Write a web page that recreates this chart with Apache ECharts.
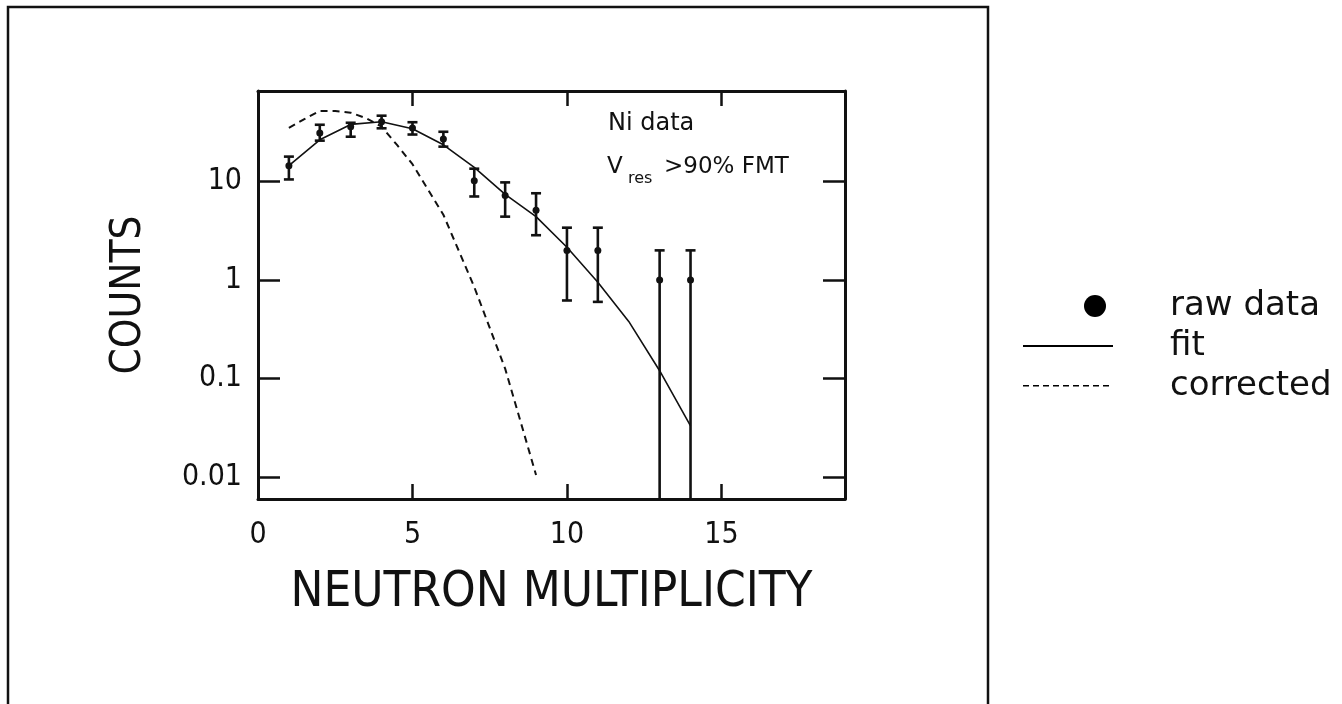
<!DOCTYPE html>
<html>
<head>
<meta charset="utf-8">
<style>
  html, body { margin: 0; padding: 0; background: #fff; }
  #chart { width: 1342px; height: 704px; }
</style>
<script src="https://cdn.jsdelivr.net/npm/echarts@6/dist/echarts.min.js"></script>
</head>
<body>
<div id="chart"></div>
<script>
// ---- data ----
const rawX      = [1, 2, 3, 4, 5, 6, 7, 8, 9, 10, 11, 13, 14];
const rawCounts = [14.5, 31, 36, 40.5, 35, 27, 10.2, 7.2, 5.1, 2, 2, 1, 1];
const rawErrLow = [10.5, 26, 28.5, 34.7, 30, 22.6, 7.05, 4.4, 2.85, 0.62, 0.6, 0, 0];
const rawErrHigh= [17.9, 37.7, 39.5, 46.6, 40, 32, 13.5, 9.8, 7.6, 3.4, 3.4, 2, 2];

const fitX      = [1, 2, 3, 4, 5, 6, 7, 8, 9, 10, 11, 12, 13, 14];
const fitY      = [14.5, 26.5, 38, 40.5, 34.3, 23.6, 13.9, 7.4, 4.4, 2.15, 0.95, 0.38, 0.12, 0.033];

const corrX     = [1, 1.5, 2, 2.5, 3, 3.5, 4, 4.5, 5, 6, 7, 8, 9];
const corrY     = [35, 43, 52, 52, 50, 44, 36, 23.5, 15, 4.6, 0.85, 0.126, 0.0105];

const xTicks    = [0, 5, 10, 15];
const yTicks    = [0.01, 0.1, 1, 10];
const seriesNames = ['raw data', 'fit', 'corrected'];

// ---- build ----
const axisFont = "'Liberation Sans Narrow', 'DejaVu Sans Condensed', 'Liberation Sans', sans-serif";
const textFont = "'DejaVu Sans', sans-serif";
const black = '#111';

const rawData = rawX.map((x, i) => [x, rawCounts[i]]);
const errData = rawX.map((x, i) => [x, rawErrLow[i], rawErrHigh[i]]);
const fitData = fitX.map((x, i) => [x, fitY[i]]);
const corrData = corrX.map((x, i) => [x, corrY[i]]);

const Y_MIN = Math.pow(10, -2.223);
const Y_MAX = Math.pow(10, 1.919);

// legend icons (90 x 22 box)
const BOX = 'M0,0 M90,22 ';
const dotIcon = 'path://' + BOX + 'M61,11 A11,11 0 1,1 83,11 A11,11 0 1,1 61,11 Z';
const solidIcon = 'path://' + BOX + 'M0,10 L90,10 L90,12 L0,12 Z';
let dashPath = BOX;
for (let i = 0; i < 9; i++) {
  const a = i * 10, b = a + 6;
  dashPath += 'M' + a + ',10 L' + b + ',10 L' + b + ',11.6 L' + a + ',11.6 Z ';
}
const dashIcon = 'path://' + dashPath;

function xAxisCfg(pos, showLabels) {
  return {
    type: 'value', position: pos, min: 0, max: 19, interval: 5,
    axisLine: { show: true, onZero: false, lineStyle: { color: black, width: 3 } },
    axisTick: { show: true, inside: true, length: 15, lineStyle: { color: black, width: 2.5 } },
    axisLabel: { show: showLabels, color: black, fontFamily: axisFont, fontSize: 30, margin: 21, showMaxLabel: false },
    splitLine: { show: false },
    name: showLabels ? 'NEUTRON MULTIPLICITY' : '',
    nameLocation: 'middle', nameGap: 70,
    nameTextStyle: { color: black, fontFamily: axisFont, fontSize: 49 }
  };
}
function yAxisCfg(pos, showLabels) {
  return {
    type: 'log', logBase: 10, position: pos, min: Y_MIN, max: Y_MAX,
    axisLine: { show: true, onZero: false, lineStyle: { color: black, width: 3 } },
    axisTick: { show: true, inside: true, length: 22, lineStyle: { color: black, width: 2.5 } },
    axisLabel: { show: showLabels, color: black, fontFamily: axisFont, fontSize: 30, margin: 16,
                 showMinLabel: false, showMaxLabel: false,
                 formatter: v => String(+v.toPrecision(3)) },
    splitLine: { show: false },
    name: showLabels ? 'COUNTS' : '',
    nameLocation: 'middle', nameGap: 108, nameRotate: 90,
    nameTextStyle: { color: black, fontFamily: axisFont, fontSize: 42 }
  };
}

const chart = echarts.init(document.getElementById('chart'), null, { renderer: 'canvas' });

const option = {
  backgroundColor: '#fff',
  animation: false,
  grid: { left: 258, top: 91, width: 587, height: 408, containLabel: false },
  xAxis: [xAxisCfg('bottom', true), xAxisCfg('top', false)],
  yAxis: [yAxisCfg('left', true), yAxisCfg('right', false)],
  legend: {
    orient: 'vertical', left: 1023, top: 289, padding: 0,
    itemWidth: 90, itemHeight: 22, itemGap: 6,
    textStyle: { color: black, fontFamily: textFont, fontSize: 34, padding: [0, 0, 0, 52] },
    data: [
      { name: seriesNames[0], icon: dotIcon, itemStyle: { color: '#000', opacity: 1, borderWidth: 0 } },
      { name: seriesNames[1], icon: solidIcon, itemStyle: { color: '#000', opacity: 1, borderWidth: 0 } },
      { name: seriesNames[2], icon: dashIcon, itemStyle: { color: '#000', opacity: 1, borderWidth: 0 } }
    ]
  },
  graphic: [
    { type: 'rect', silent: true, z: -1,
      shape: { x: 8, y: 7, width: 980, height: 740 },
      style: { fill: 'none', stroke: black, lineWidth: 2.5 } },
    { type: 'text', left: 608, top: 112,
      style: { text: 'Ni data', fill: black, font: "24px 'DejaVu Sans', sans-serif" } },
    { type: 'text', left: 607, top: 156,
      style: { text: 'V', fill: black, font: "23px 'DejaVu Sans', sans-serif" } },
    { type: 'text', left: 628, top: 171,
      style: { text: 'res', fill: black, font: "16px 'DejaVu Sans', sans-serif" } },
    { type: 'text', left: 664, top: 156,
      style: { text: '>90% FMT', fill: black, font: "23px 'DejaVu Sans', sans-serif" } }
  ],
  series: [
    {
      name: seriesNames[2], type: 'line', data: corrData, symbol: 'none', smooth: false,
      lineStyle: { color: black, width: 2, type: [7, 5] }, itemStyle: { color: black }, z: 2
    },
    {
      name: seriesNames[1], type: 'line', data: fitData, symbol: 'none', smooth: false,
      lineStyle: { color: black, width: 1.6 }, itemStyle: { color: black }, z: 3
    },
    {
      name: 'errors', type: 'custom', data: errData, z: 4,
      renderItem: function (params, api) {
        const x = api.value(0), lo = api.value(1), hi = api.value(2);
        const top = api.coord([x, hi]);
        const cs = params.coordSys;
        const bottomY = lo > 0 ? api.coord([x, lo])[1] : cs.y + cs.height;
        const w = 5;
        const st = { stroke: black, lineWidth: 2.6 };
        const children = [
          { type: 'line', shape: { x1: top[0], y1: top[1], x2: top[0], y2: bottomY }, style: st },
          { type: 'line', shape: { x1: top[0] - w, y1: top[1], x2: top[0] + w, y2: top[1] }, style: st }
        ];
        if (lo > 0) {
          children.push({ type: 'line', shape: { x1: top[0] - w, y1: bottomY, x2: top[0] + w, y2: bottomY }, style: st });
        }
        return { type: 'group', children: children };
      }
    },
    {
      name: seriesNames[0], type: 'scatter', data: rawData, symbol: 'circle', symbolSize: 7,
      itemStyle: { color: black, opacity: 1 }, z: 5
    }
  ]
};
chart.setOption(option);
</script>
</body>
</html>
